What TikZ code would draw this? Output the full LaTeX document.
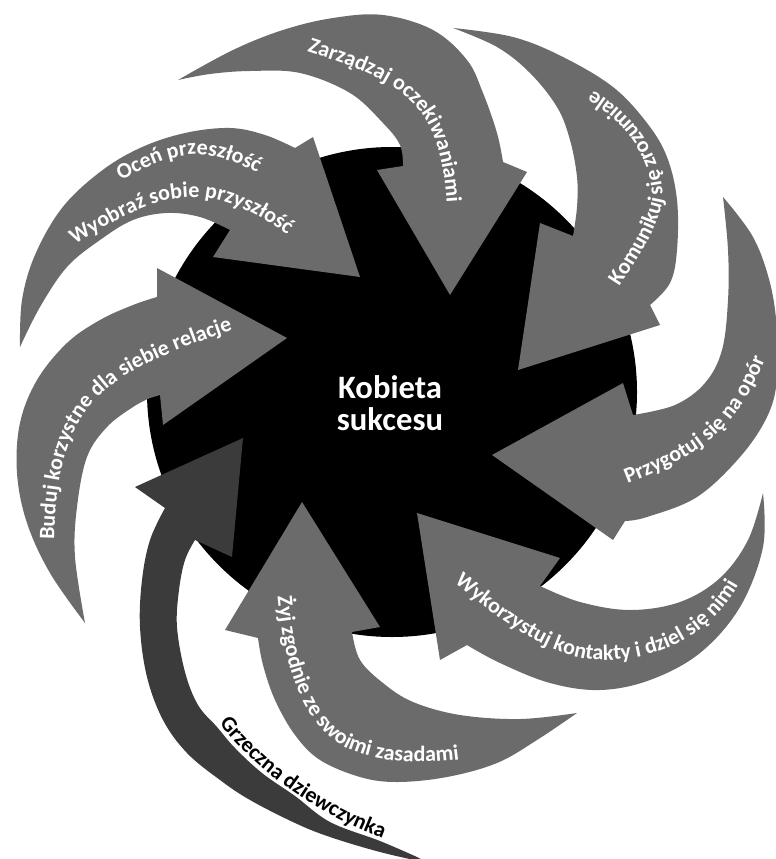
\documentclass[tikz,border=0pt]{standalone}
\usepackage{fontspec}
\setmainfont{Carlito}
\usetikzlibrary{decorations.text}
\newcommand\arrowfont{\fontsize{16.5}{20}\selectfont\bfseries}
\newcommand\corefont{\fontsize{24.5}{26}\selectfont\bfseries}
\begin{document}
\begin{tikzpicture}[x=0.75pt,y=-0.75pt,
  garrow/.style={fill=black!58},
  darrow/.style={fill=black!77},
  ptext/.style={decorate, decoration={text along path, text align=center, text color=white}},
  btext/.style={decorate, decoration={text along path, text align=center, text color=black}},
  sm/.style={smooth, tension=0.6}]
\useasboundingbox (0,0) rectangle (775,859);
% core circle
\node[circle, fill=black, inner sep=0pt, minimum size=367.5pt] (core) at (392,392) {};
% 1 Zarzadzaj
\fill[garrow] plot[sm] coordinates {(178,80) (233,50) (283,30) (333,18) (383,15) (433,30) (467,60) (483,93) (497,133) (503,162)}
  -- (527,172) -- (450,295) -- (377,170)
  -- plot[sm] coordinates {(403,166) (400,145) (383,123) (350,93) (300,73) (250,71) (210,74) (178,80)} -- cycle;
% 2 Komunikuj
\fill[garrow] plot[sm] coordinates {(453,28) (513,37) (563,57) (613,87) (647,123) (667,157) (677,200) (677,250) (670,283) (650,305)}
  -- (660,325) -- (518,370) -- (540,223)
  -- plot[sm] coordinates {(573,236) (577,207) (577,177) (570,140) (557,107) (530,73) (497,47) (453,28)} -- cycle;
% 3 Przygotuj
\fill[garrow] plot[sm] coordinates {(723,197) (753,237) (770,283) (777,330) (777,380) (767,417) (740,457) (697,497) (647,517) (625,521)}
  -- (613,540) -- (492,455) -- (623,383)
  -- plot[sm] coordinates {(633,415) (675,405) (705,383) (722,350) (728,300) (728,250) (723,197)} -- cycle;
% 4 Wykorzystuj
\fill[garrow] plot[sm] coordinates {(763,493) (763,547) (740,607) (700,653) (650,680) (600,690) (550,683) (500,663) (467,645)}
  -- (440,660) -- (417,513) -- (560,558)
  -- plot[sm] coordinates {(540,586) (580,602) (630,610) (680,602) (720,578) (748,540) (763,493)} -- cycle;
% 5 Zyj
\fill[garrow] plot[sm] coordinates {(577,713) (537,740) (497,763) (447,777) (397,782) (360,777) (320,760) (295,735) (275,700) (263,665) (258,638)}
  -- (225,630) -- (302,502) -- (380,627)
  -- plot[sm] coordinates {(352,632) (360,660) (383,683) (413,702) (460,715) (520,719) (577,713)} -- cycle;
% 7 Buduj
\fill[garrow] plot[sm] coordinates {(85,623) (50,573) (27,523) (17,473) (20,423) (37,380) (67,343) (100,320) (133,305) (157,297)}
  -- (157,268) -- (287,338) -- (163,425) -- (160,395)
  -- plot[sm] coordinates {(150,398) (133,407) (107,427) (87,457) (77,507) (75,557) (85,623)} -- cycle;
% 8 Ocen
\fill[garrow] plot[sm] coordinates {(20,347) (22,300) (35,255) (62,208) (100,172) (140,148) (185,133) (230,128) (265,135) (295,148)}
  -- (313,137) -- (360,277) -- (213,257)
  -- plot[sm] coordinates {(230,230) (200,217) (167,213) (133,220) (100,240) (67,267) (40,307) (20,347)} -- cycle;
% 6 Grzeczna (dark)
\fill[darrow] (243,438) -- (135,487)
  -- plot[sm] coordinates {(165,508) (150,540) (142,580) (140,627) (147,677) (163,720) (187,753) (220,780) (250,800) (295,823) (330,837) (380,852) (428,863)}
  -- plot[sm] coordinates {(417,857) (380,841) (330,822) (295,796) (262,773) (235,748) (217,727) (198,705) (185,672) (177,627) (179,590) (185,560) (195,540)}
  -- (232,557) -- cycle;
% centre text
\node[anchor=base, text=white, font=\corefont, inner sep=0pt] (kob1) at (390,398) {Kobieta};
\node[anchor=base, text=white, font=\corefont, inner sep=0pt] (kob2) at (390,430) {sukcesu};
% arrow texts
\path[ptext, decoration={text={|\arrowfont|Zarządzaj oczekiwaniami}}]
  (284,44) .. controls (408,83) and (444,97) .. (448,227);
\path[ptext, decoration={text={|\arrowfont|Komunikuj się zrozumiale}}]
  (597,325) .. controls (619,280) and (654,245) .. (663,200) .. controls (662,150) and (630,100) .. (553,72);
\path[ptext, decoration={text={|\arrowfont|Przygotuj się na opór}}]
  (597,495) .. controls (705,455) and (738,437) .. (777,329);
\path[ptext, decoration={text={|\arrowfont|Wykorzystuj kontakty i dziel się nimi}}]
  (424,558) .. controls (471,596) and (540,660) .. (600,660) .. controls (690,662) and (742,600) .. (752,549);
\path[ptext, decoration={text={|\arrowfont|Żyj zgodnie ze swoimi zasadami}}]
  (276,555) .. controls (276,625) and (290,710) .. (335,741) .. controls (372,768) and (450,766) .. (500,751);
\path[btext, decoration={text={|\arrowfont|Grzeczna dziewczynka}}]
  (203,700) .. controls (245,770) and (333,826) .. (410,847);
\path[ptext, decoration={text={|\arrowfont|Buduj korzystne dla siebie relacje}}]
  (54,558) .. controls (54,398) and (98,375) .. (250,324);
\path[ptext, decoration={text={|\arrowfont|Oceń przeszłość}}]
  (94,194) .. controls (183,148) and (197,138) .. (284,187);
\path[ptext, decoration={text={|\arrowfont|Wyobraź sobie przyszłość}}]
  (53,259) .. controls (161,188) and (207,169) .. (308,251);
\end{tikzpicture}
\end{document}
